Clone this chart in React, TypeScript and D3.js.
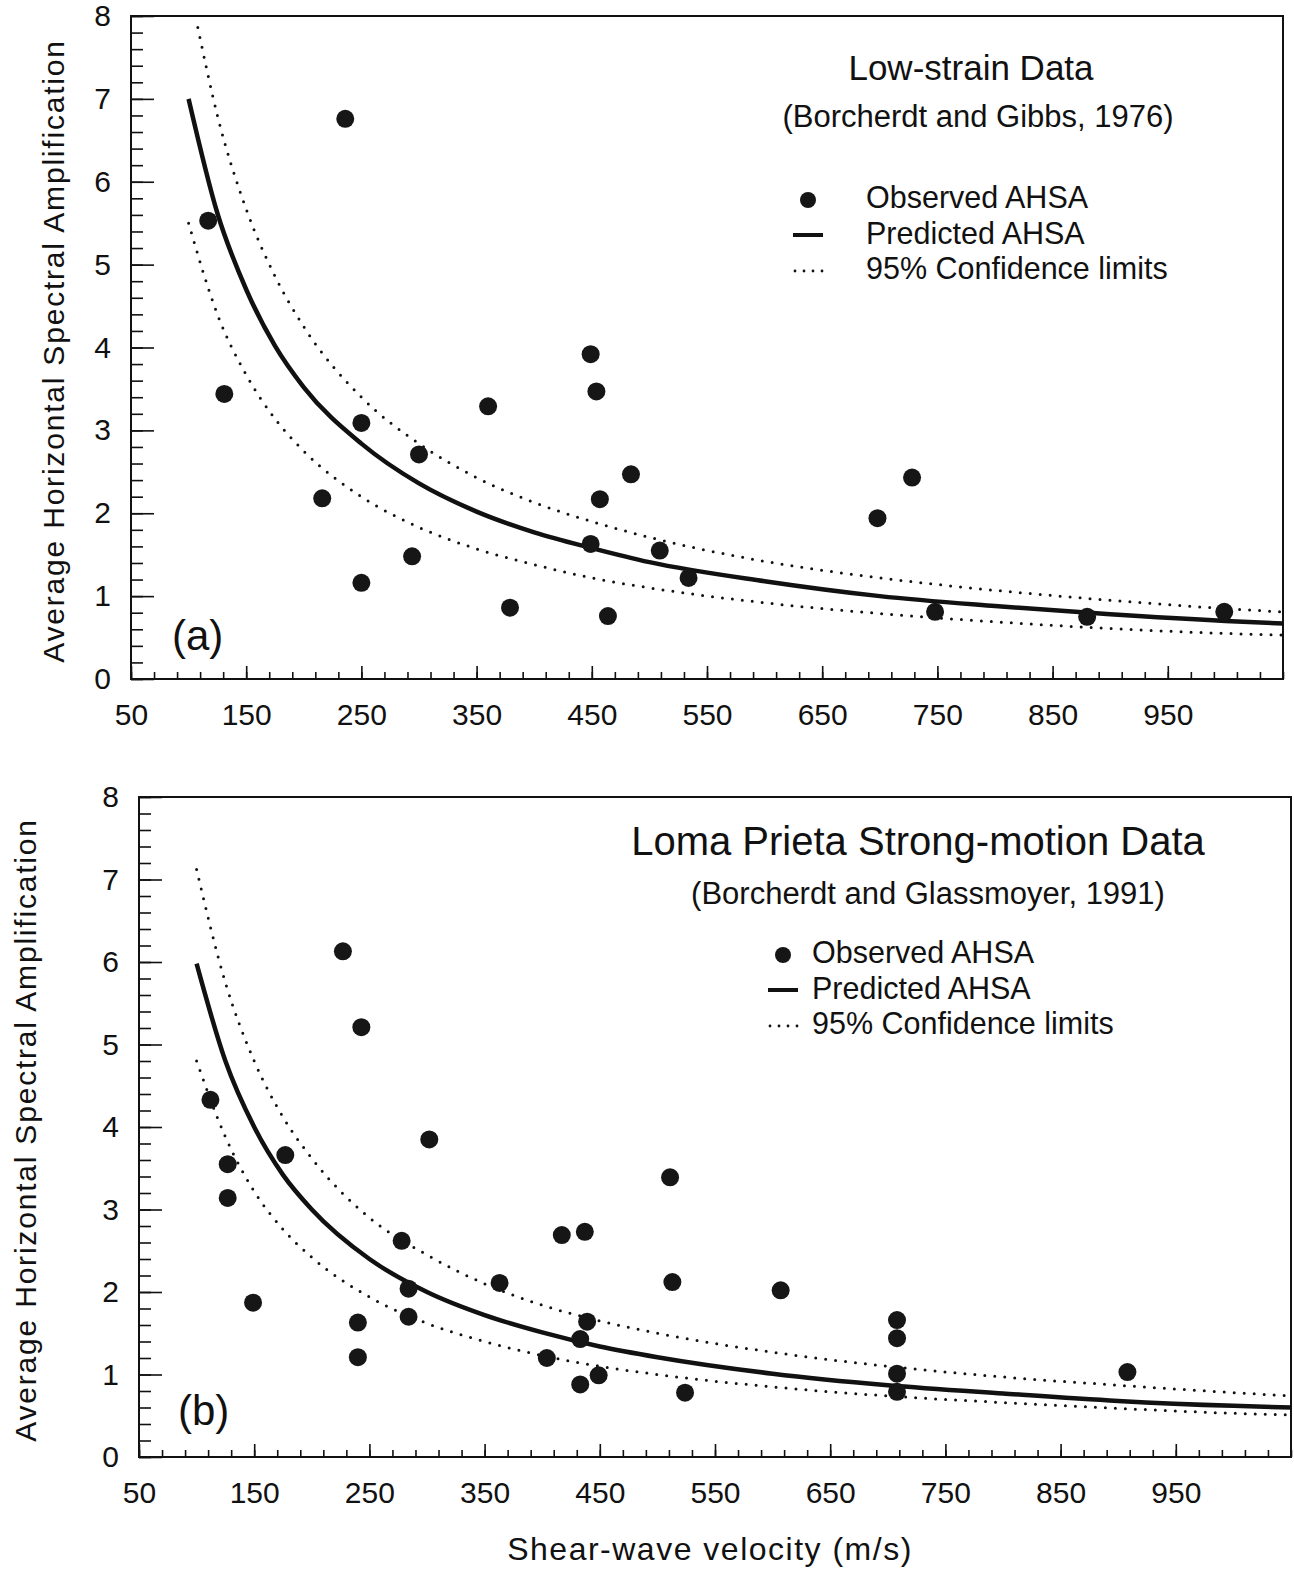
import { useEffect, useRef } from 'react';
import * as d3 from 'd3';

const FONT = '"Liberation Sans", Arial, Helvetica, sans-serif';

const xTicks = [50, 150, 250, 350, 450, 550, 650, 750, 850, 950];
const xMinorTicks = d3.range(50, 1051, 20);
const yTicks = [0, 1, 2, 3, 4, 5, 6, 7, 8];
const yMinorTicks = d3.range(0, 8.01, 0.2);

const legendLabels = ['Observed AHSA', 'Predicted AHSA', '95% Confidence limits'];

// (a) low-strain data, Borcherdt and Gibbs 1976
const obsVelA = [117, 131, 236, 216, 250, 250, 300, 294, 360, 379, 449, 454, 457, 449, 484, 464, 509, 534, 698, 728, 748, 880, 999];
const obsAmpA = [5.53, 3.44, 6.76, 2.18, 3.09, 1.16, 2.71, 1.48, 3.29, 0.86, 3.92, 3.47, 2.17, 1.63, 2.47, 0.76, 1.55, 1.22, 1.94, 2.43, 0.81, 0.75, 0.81];
const curveVelA = [100, 125, 150, 175, 200, 250, 300, 350, 400, 450, 500, 600, 700, 800, 900, 1000, 1050];
const predA = [7.0, 5.62, 4.7, 4.02, 3.52, 2.84, 2.36, 2.02, 1.77, 1.58, 1.41, 1.18, 1.0, 0.88, 0.78, 0.7, 0.67];
const upperVelA = [108, 125, 150, 175, 200, 250, 300, 350, 400, 450, 500, 600, 700, 800, 900, 1000, 1050];
const upperA = [7.86, 6.8, 5.67, 4.86, 4.25, 3.4, 2.84, 2.43, 2.13, 1.9, 1.71, 1.42, 1.22, 1.07, 0.95, 0.85, 0.81];
const lowerA = [5.5, 4.4, 3.67, 3.14, 2.75, 2.2, 1.83, 1.57, 1.38, 1.22, 1.1, 0.92, 0.79, 0.69, 0.61, 0.55, 0.53];

// (b) Loma Prieta strong-motion data, Borcherdt and Glassmoyer 1991
const obsVelB = [112, 127, 127, 177, 227, 243, 302, 149, 278, 284, 284, 240, 240, 363, 417, 437, 511, 513, 439, 433, 404, 449, 433, 524, 607, 708, 708, 708, 708, 908];
const obsAmpB = [4.33, 3.55, 3.14, 3.66, 6.13, 5.21, 3.85, 1.87, 2.62, 2.04, 1.7, 1.63, 1.21, 2.11, 2.69, 2.73, 3.39, 2.12, 1.64, 1.43, 1.2, 0.99, 0.88, 0.78, 2.02, 1.66, 1.44, 1.01, 0.79, 1.03];
const curveVelB = [100, 125, 150, 175, 200, 250, 300, 350, 400, 450, 500, 600, 700, 800, 900, 1000, 1050];
const predB = [5.98, 4.8, 4.0, 3.42, 3.0, 2.4, 2.0, 1.72, 1.51, 1.34, 1.21, 1.01, 0.87, 0.77, 0.68, 0.62, 0.6];
const upperB = [7.12, 5.75, 4.8, 4.12, 3.62, 2.9, 2.45, 2.1, 1.84, 1.65, 1.5, 1.27, 1.1, 0.97, 0.87, 0.78, 0.74];
const lowerB = [4.8, 3.88, 3.22, 2.76, 2.42, 1.94, 1.62, 1.4, 1.23, 1.1, 1.0, 0.85, 0.74, 0.66, 0.59, 0.53, 0.51];

const panels = [
  {
    frame: { left: 131, top: 16, right: 1283, bottom: 679 },
    obs: obsVelA.map((v, i) => [v, obsAmpA[i]]),
    pred: curveVelA.map((v, i) => [v, predA[i]]),
    upper: upperVelA.map((v, i) => [v, upperA[i]]),
    lower: curveVelA.map((v, i) => [v, lowerA[i]]),
    title: 'Low-strain Data', titleX: 971, titleY: 80, titleSize: 35,
    source: '(Borcherdt and Gibbs, 1976)', sourceX: 978, sourceY: 127,
    legendX: 808, legendY: 200, legendTextX: 866,
    tag: '(a)', tagX: 172, tagY: 650,
    yTitleX: 53, yTitleY: 351,
  },
  {
    frame: { left: 139, top: 797, right: 1291, bottom: 1457 },
    obs: obsVelB.map((v, i) => [v, obsAmpB[i]]),
    pred: curveVelB.map((v, i) => [v, predB[i]]),
    upper: curveVelB.map((v, i) => [v, upperB[i]]),
    lower: curveVelB.map((v, i) => [v, lowerB[i]]),
    title: 'Loma Prieta Strong-motion Data', titleX: 918, titleY: 855, titleSize: 40,
    source: '(Borcherdt and Glassmoyer, 1991)', sourceX: 928, sourceY: 904,
    legendX: 783, legendY: 955, legendTextX: 812,
    tag: '(b)', tagX: 178, tagY: 1425,
    yTitleX: 25, yTitleY: 1130,
  },
];

function drawPanel(svg, p) {
  const { left, top, right, bottom } = p.frame;
  const x = d3.scaleLinear().domain([50, 1050]).range([left, right]);
  const y = d3.scaleLinear().domain([0, 8]).range([bottom, top]);
  const g = svg.append('g');

  // minor ticks
  g.append('g')
    .attr('transform', `translate(0,${bottom})`)
    .call(d3.axisBottom(x).tickValues(xMinorTicks).tickSize(-7).tickFormat(() => ''))
    .call(a => a.select('.domain').remove());
  g.append('g')
    .attr('transform', `translate(${left},0)`)
    .call(d3.axisLeft(y).tickValues(yMinorTicks).tickSize(-12).tickFormat(() => ''))
    .call(a => a.select('.domain').remove());

  // major ticks with labels
  g.append('g')
    .attr('transform', `translate(0,${bottom})`)
    .call(d3.axisBottom(x).tickValues(xTicks).tickSize(-13).tickPadding(25))
    .call(a => a.select('.domain').remove());
  g.append('g')
    .attr('transform', `translate(${left},0)`)
    .call(d3.axisLeft(y).tickValues(yTicks).tickSize(-23).tickPadding(20))
    .call(a => a.select('.domain').remove());

  g.selectAll('.tick line').attr('stroke', '#111').attr('stroke-width', 1.6);
  g.selectAll('.tick text').attr('font-size', 30).attr('font-family', FONT).attr('fill', '#111');

  g.append('rect')
    .attr('x', left).attr('y', top)
    .attr('width', right - left).attr('height', bottom - top)
    .attr('fill', 'none').attr('stroke', '#111').attr('stroke-width', 2);

  const line = d3.line().x(d => x(d[0])).y(d => y(d[1])).curve(d3.curveMonotoneX);

  [p.upper, p.lower].forEach(data => {
    g.append('path')
      .datum(data)
      .attr('fill', 'none')
      .attr('stroke', '#111')
      .attr('stroke-width', 3)
      .attr('stroke-linecap', 'round')
      .attr('stroke-dasharray', '0 10')
      .attr('d', line);
  });

  g.append('path')
    .datum(p.pred)
    .attr('fill', 'none')
    .attr('stroke', '#111')
    .attr('stroke-width', 4.5)
    .attr('d', line);

  g.selectAll('circle.obs')
    .data(p.obs)
    .join('circle')
    .attr('class', 'obs')
    .attr('cx', d => x(d[0]))
    .attr('cy', d => y(d[1]))
    .attr('r', 9)
    .attr('fill', '#161616');

  // titles
  g.append('text')
    .attr('x', p.titleX).attr('y', p.titleY)
    .attr('text-anchor', 'middle')
    .attr('font-size', p.titleSize).attr('font-family', FONT).attr('fill', '#111')
    .text(p.title);
  g.append('text')
    .attr('x', p.sourceX).attr('y', p.sourceY)
    .attr('text-anchor', 'middle')
    .attr('font-size', 31).attr('font-family', FONT).attr('fill', '#111')
    .text(p.source);

  // legend
  const lx = p.legendX;
  const ly = p.legendY;
  g.append('circle').attr('cx', lx).attr('cy', ly).attr('r', 8).attr('fill', '#161616');
  g.append('line')
    .attr('x1', lx - 15).attr('x2', lx + 15).attr('y1', ly + 35).attr('y2', ly + 35)
    .attr('stroke', '#111').attr('stroke-width', 4);
  g.append('line')
    .attr('x1', lx - 13).attr('x2', lx + 15).attr('y1', ly + 71).attr('y2', ly + 71)
    .attr('stroke', '#111').attr('stroke-width', 2.8)
    .attr('stroke-linecap', 'round').attr('stroke-dasharray', '0 9');
  legendLabels.forEach((t, i) => {
    g.append('text')
      .attr('x', p.legendTextX).attr('y', ly + 8 + i * 35.5)
      .attr('font-size', 30.5).attr('font-family', FONT).attr('fill', '#111')
      .text(t);
  });

  g.append('text')
    .attr('x', p.tagX).attr('y', p.tagY)
    .attr('font-size', 42).attr('font-family', FONT).attr('fill', '#111')
    .text(p.tag);

  g.append('text')
    .attr('transform', `translate(${p.yTitleX},${p.yTitleY}) rotate(-90)`)
    .attr('text-anchor', 'middle')
    .attr('dy', '0.36em')
    .attr('font-size', 30).attr('letter-spacing', 1.8)
    .attr('font-family', FONT).attr('fill', '#111')
    .text('Average Horizontal Spectral Amplification');
}

export default function App() {
  const svgRef = useRef(null);

  useEffect(() => {
    const svg = d3.select(svgRef.current)
      .attr('width', 1294)
      .attr('height', 1569);

    svg.selectAll('*').remove();

    svg.append('rect').attr('width', 1294).attr('height', 1569).attr('fill', '#fff');

    panels.forEach(p => drawPanel(svg, p));

    svg.append('text')
      .attr('x', 710).attr('y', 1560)
      .attr('text-anchor', 'middle')
      .attr('font-size', 32).attr('letter-spacing', 1.5)
      .attr('font-family', FONT).attr('fill', '#111')
      .text('Shear-wave velocity (m/s)');
  }, []);

  return (
    <svg ref={svgRef} style={{ position: 'absolute', left: 0, top: 0, display: 'block' }}></svg>
  );
}
